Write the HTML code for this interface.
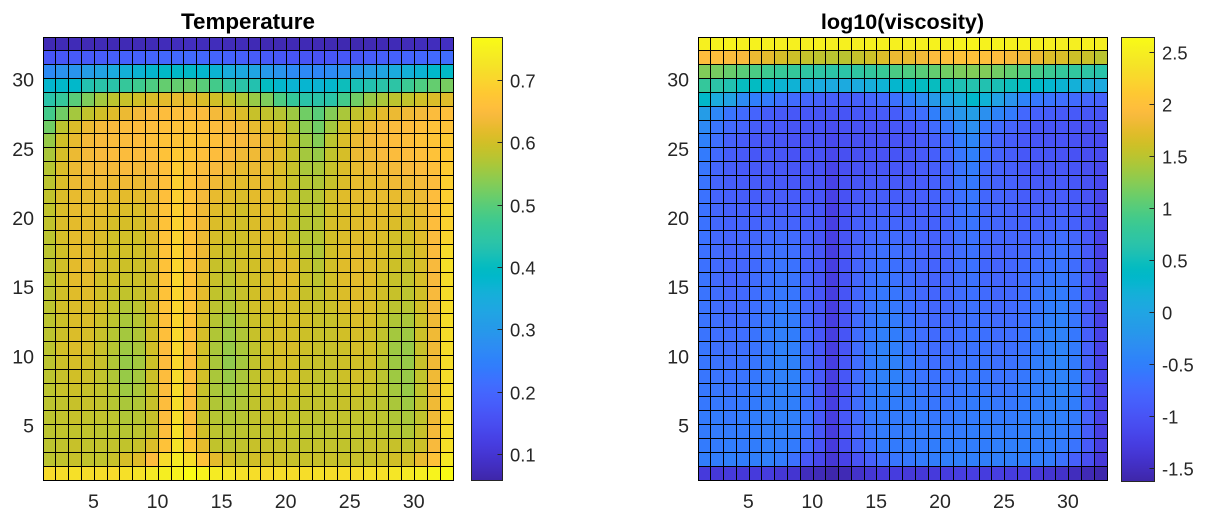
<!DOCTYPE html>
<html lang="en">
<head>
<meta charset="utf-8">
<title>Temperature and log10(viscosity)</title>
<style>
html,body{margin:0;padding:0;background:#fff;width:1206px;height:521px;overflow:hidden}
svg{display:block;font-family:"Liberation Sans",Arial,sans-serif}
</style>
</head>
<body>
<svg id="figure" width="1206" height="521" viewBox="0 0 1206 521" xmlns="http://www.w3.org/2000/svg">
  <defs id="defs"></defs>
  <rect x="0" y="0" width="1206" height="521" fill="#ffffff"></rect>
  <g id="plot-left"></g>
  <g id="plot-right"></g>
</svg>
<script>
// Rows run from the top of the plot (y = 32..33) to the bottom (y = 1..2); 32 columns each.
const temperatureValues = [
[.07,.072,.072,.07,.072,.07,.07,.072,.072,.075,.078,.08,.076,.076,.074,.074,.07,.068,.068,.07,.07,.07,.068,.066,.066,.068,.07,.072,.074,.076,.078,.082],
[.165,.17,.175,.175,.18,.185,.19,.19,.195,.2,.205,.205,.2,.195,.19,.185,.18,.175,.17,.165,.165,.16,.165,.17,.17,.18,.185,.19,.195,.2,.205,.21],
[.27,.285,.29,.31,.325,.345,.36,.37,.38,.39,.39,.39,.38,.37,.35,.34,.33,.3,.29,.27,.265,.26,.27,.28,.295,.31,.33,.345,.36,.37,.385,.39],
[.38,.385,.385,.43,.44,.44,.46,.475,.49,.51,.51,.515,.5,.48,.45,.44,.43,.4,.38,.37,.375,.37,.38,.41,.42,.43,.44,.445,.47,.49,.51,.525],
[.44,.46,.5,.53,.56,.58,.59,.6,.61,.62,.625,.62,.61,.6,.585,.57,.55,.53,.49,.46,.44,.44,.44,.48,.52,.55,.565,.58,.585,.6,.61,.615],
[.48,.52,.56,.585,.6,.615,.63,.64,.65,.655,.66,.655,.65,.64,.625,.61,.59,.585,.575,.555,.52,.5,.535,.565,.585,.6,.62,.63,.635,.64,.65,.66],
[.52,.58,.61,.63,.64,.645,.65,.655,.655,.66,.665,.665,.66,.655,.645,.64,.625,.62,.61,.575,.54,.52,.56,.6,.62,.635,.645,.65,.655,.66,.665,.665],
[.55,.6,.625,.64,.645,.65,.65,.655,.66,.665,.67,.67,.665,.66,.65,.645,.64,.63,.62,.59,.555,.535,.58,.61,.63,.64,.65,.655,.66,.665,.67,.68],
[.565,.605,.63,.64,.645,.65,.65,.65,.655,.665,.68,.67,.66,.655,.645,.635,.635,.63,.615,.59,.56,.55,.585,.605,.63,.635,.645,.65,.655,.66,.665,.68],
[.575,.61,.63,.64,.64,.64,.645,.64,.645,.66,.685,.665,.65,.645,.635,.625,.63,.625,.61,.59,.565,.565,.59,.61,.625,.635,.635,.64,.645,.65,.66,.685],
[.58,.61,.63,.635,.635,.63,.635,.63,.64,.66,.69,.665,.645,.635,.625,.62,.625,.625,.61,.59,.575,.57,.59,.61,.625,.625,.63,.635,.635,.64,.655,.69],
[.585,.61,.625,.625,.625,.62,.62,.62,.625,.66,.69,.665,.64,.625,.615,.61,.62,.62,.61,.59,.575,.575,.6,.615,.62,.625,.625,.625,.625,.63,.655,.69],
[.585,.61,.625,.625,.62,.615,.61,.61,.625,.665,.69,.665,.635,.615,.61,.6,.615,.62,.61,.59,.58,.575,.6,.61,.615,.62,.62,.62,.615,.625,.66,.695],
[.585,.61,.62,.62,.615,.605,.605,.605,.62,.665,.695,.665,.635,.61,.605,.6,.61,.615,.61,.59,.575,.575,.605,.61,.615,.62,.615,.61,.605,.62,.655,.695],
[.58,.605,.62,.62,.61,.6,.6,.6,.615,.665,.695,.665,.63,.605,.6,.6,.61,.615,.61,.59,.575,.575,.6,.61,.615,.615,.61,.6,.6,.615,.65,.7],
[.58,.6,.62,.62,.61,.6,.6,.6,.61,.665,.695,.665,.63,.6,.595,.6,.605,.615,.615,.6,.58,.57,.6,.615,.62,.615,.61,.6,.595,.61,.65,.71],
[.58,.6,.62,.625,.605,.6,.595,.595,.605,.665,.7,.665,.625,.59,.585,.6,.6,.61,.62,.615,.59,.575,.6,.615,.62,.615,.605,.595,.59,.605,.645,.72],
[.58,.6,.62,.62,.6,.6,.59,.595,.605,.665,.7,.665,.62,.59,.58,.595,.6,.61,.62,.615,.59,.58,.6,.615,.62,.615,.6,.59,.585,.605,.645,.715],
[.58,.6,.615,.615,.6,.59,.585,.59,.6,.665,.7,.665,.62,.585,.575,.59,.6,.61,.615,.61,.59,.585,.6,.61,.615,.61,.6,.59,.58,.6,.645,.715],
[.58,.6,.61,.61,.6,.585,.57,.58,.605,.665,.7,.665,.615,.58,.57,.585,.6,.605,.61,.605,.595,.59,.595,.61,.615,.61,.595,.58,.575,.6,.64,.715],
[.58,.595,.61,.61,.595,.58,.565,.575,.6,.66,.7,.665,.61,.575,.56,.575,.595,.6,.605,.605,.6,.59,.59,.6,.61,.605,.59,.57,.565,.595,.635,.715],
[.58,.595,.61,.605,.59,.575,.56,.57,.6,.66,.705,.66,.605,.57,.555,.57,.59,.6,.605,.6,.595,.59,.59,.6,.605,.6,.585,.56,.555,.595,.635,.715],
[.58,.6,.61,.605,.59,.575,.555,.565,.6,.655,.705,.66,.6,.565,.55,.565,.585,.6,.605,.605,.595,.59,.59,.595,.605,.6,.585,.555,.55,.59,.635,.715],
[.58,.595,.605,.6,.59,.57,.55,.56,.595,.655,.705,.655,.6,.565,.545,.56,.585,.6,.605,.6,.59,.59,.59,.595,.6,.6,.58,.555,.55,.59,.635,.715],
[.58,.59,.6,.595,.585,.57,.55,.56,.595,.655,.71,.655,.6,.565,.55,.565,.585,.595,.6,.6,.59,.585,.585,.595,.6,.595,.58,.555,.55,.585,.635,.715],
[.58,.59,.595,.59,.585,.575,.555,.565,.59,.655,.71,.655,.59,.565,.555,.565,.585,.595,.6,.595,.59,.585,.585,.59,.595,.59,.58,.56,.55,.585,.635,.715],
[.58,.585,.59,.59,.585,.575,.565,.57,.59,.655,.715,.655,.59,.57,.56,.57,.585,.59,.595,.59,.585,.585,.585,.59,.59,.585,.58,.565,.555,.585,.635,.715],
[.58,.585,.59,.585,.585,.58,.57,.575,.59,.655,.715,.655,.59,.575,.57,.575,.585,.59,.59,.585,.585,.58,.585,.585,.585,.585,.58,.57,.565,.585,.635,.715],
[.58,.585,.585,.585,.58,.58,.575,.58,.59,.655,.72,.66,.6,.58,.575,.58,.585,.585,.59,.585,.58,.58,.58,.585,.585,.585,.58,.575,.57,.59,.64,.715],
[.58,.585,.59,.585,.585,.585,.585,.59,.61,.665,.725,.675,.62,.585,.58,.585,.59,.59,.59,.585,.585,.585,.585,.585,.585,.59,.59,.59,.585,.595,.645,.72],
[.58,.585,.59,.585,.585,.59,.605,.615,.655,.71,.74,.715,.665,.62,.6,.59,.6,.6,.595,.59,.59,.59,.59,.59,.59,.59,.595,.6,.6,.625,.665,.735],
[.71,.715,.72,.715,.715,.71,.72,.725,.735,.745,.755,.77,.755,.74,.73,.72,.715,.71,.715,.715,.715,.72,.715,.715,.715,.72,.72,.73,.735,.745,.755,.77]
];
const viscosityValues = [
[2.52,2.54,2.55,2.52,2.54,2.52,2.5,2.52,2.5,2.52,2.5,2.52,2.5,2.52,2.52,2.52,2.5,2.52,2.54,2.52,2.54,2.56,2.54,2.54,2.52,2.54,2.52,2.5,2.5,2.5,2.52,2.5],
[1.96,1.97,1.93,1.9,1.8,1.75,1.65,1.6,1.55,1.52,1.5,1.5,1.55,1.6,1.7,1.8,1.78,1.85,1.95,1.98,2,2,1.98,1.95,1.88,1.85,1.8,1.7,1.68,1.6,1.58,1.5],
[1.22,1.17,1.1,1.03,.95,.87,.8,.78,.72,.7,.68,.68,.72,.76,.82,.95,.97,1.03,1.08,1.15,1.2,1.22,1.22,1.15,1.07,.98,.92,.85,.78,.75,.7,.65],
[.78,.68,.6,.45,.42,.32,.25,.22,.15,.1,.08,.08,.1,.15,.22,.3,.38,.42,.45,.5,.58,.62,.6,.55,.48,.42,.36,.3,.25,.18,.12,.08],
[.35,.1,-.05,-.35,-.5,-.55,-.65,-.72,-.78,-.82,-.86,-.88,-.86,-.78,-.72,-.65,-.5,-.35,-.15,0,.12,.35,.22,-.05,-.25,-.45,-.58,-.62,-.68,-.72,-.78,-.82],
[-.12,-.4,-.62,-.72,-.8,-.88,-.92,-.94,-.96,-.98,-.98,-.98,-.96,-.94,-.9,-.88,-.72,-.68,-.5,-.33,-.2,-.1,-.28,-.45,-.55,-.75,-.84,-.88,-.92,-.92,-.96,-.98],
[-.38,-.62,-.74,-.8,-.88,-.92,-.96,-.98,-.98,-1,-1.08,-1.02,-1.02,-1,-1,-.96,-.94,-.88,-.72,-.6,-.42,-.3,-.6,-.72,-.8,-.9,-.96,-.98,-.98,-1,-1.05,-1.08],
[-.48,-.68,-.84,-.9,-.96,-.96,-.98,-1,-1.02,-1.02,-1.12,-1.04,-1.04,-1.02,-1.02,-1,-.98,-.92,-.84,-.74,-.55,-.42,-.68,-.82,-.88,-.94,-.98,-1,-1,-1.02,-1.06,-1.1],
[-.55,-.74,-.88,-.92,-.96,-.96,-.98,-1,-1,-1.02,-1.14,-1.04,-1.04,-1.02,-1,-.98,-.97,-.92,-.86,-.78,-.6,-.5,-.72,-.82,-.88,-.94,-.96,-.98,-1,-1.02,-1.06,-1.1],
[-.6,-.78,-.88,-.92,-.92,-.94,-.96,-.97,-.98,-1.02,-1.18,-1.04,-1.02,-.98,-.97,-.95,-.94,-.9,-.86,-.8,-.63,-.55,-.74,-.82,-.86,-.92,-.95,-.96,-.96,-.98,-1.04,-1.12],
[-.62,-.8,-.88,-.9,-.9,-.92,-.94,-.94,-.96,-1,-1.2,-1.02,-.98,-.94,-.92,-.92,-.92,-.89,-.84,-.8,-.63,-.58,-.76,-.82,-.84,-.9,-.92,-.94,-.92,-.96,-1.02,-1.14],
[-.64,-.8,-.86,-.88,-.88,-.9,-.9,-.9,-.94,-.98,-1.22,-1.02,-.94,-.9,-.88,-.88,-.88,-.87,-.82,-.8,-.66,-.6,-.76,-.8,-.82,-.88,-.9,-.9,-.89,-.92,-1,-1.16],
[-.64,-.78,-.84,-.84,-.84,-.86,-.86,-.86,-.9,-.96,-1.24,-1,-.9,-.86,-.84,-.84,-.86,-.84,-.82,-.8,-.66,-.62,-.76,-.78,-.8,-.86,-.86,-.86,-.84,-.88,-.98,-1.18],
[-.64,-.76,-.82,-.8,-.8,-.78,-.8,-.8,-.86,-.96,-1.24,-.98,-.86,-.82,-.78,-.78,-.8,-.82,-.82,-.8,-.66,-.62,-.74,-.78,-.8,-.82,-.82,-.82,-.78,-.84,-.96,-1.2],
[-.64,-.75,-.8,-.78,-.76,-.72,-.7,-.72,-.84,-.96,-1.24,-.98,-.84,-.76,-.72,-.72,-.76,-.8,-.82,-.8,-.68,-.65,-.75,-.78,-.78,-.8,-.78,-.74,-.7,-.78,-.94,-1.2],
[-.65,-.73,-.8,-.76,-.72,-.68,-.66,-.68,-.82,-.96,-1.26,-.98,-.82,-.72,-.66,-.68,-.72,-.78,-.82,-.8,-.7,-.65,-.76,-.8,-.78,-.76,-.72,-.68,-.64,-.72,-.92,-1.22],
[-.65,-.73,-.8,-.78,-.72,-.66,-.62,-.64,-.82,-.96,-1.26,-.98,-.8,-.7,-.64,-.66,-.72,-.78,-.8,-.8,-.7,-.65,-.76,-.8,-.76,-.72,-.68,-.64,-.62,-.7,-.92,-1.22],
[-.62,-.73,-.8,-.76,-.7,-.64,-.6,-.62,-.8,-.96,-1.26,-.98,-.78,-.66,-.6,-.64,-.7,-.76,-.8,-.78,-.7,-.65,-.75,-.78,-.76,-.7,-.64,-.6,-.58,-.66,-.9,-1.22],
[-.62,-.7,-.78,-.74,-.68,-.62,-.58,-.6,-.8,-.96,-1.26,-.98,-.76,-.64,-.58,-.6,-.68,-.74,-.78,-.78,-.7,-.66,-.72,-.76,-.74,-.7,-.62,-.55,-.55,-.64,-.9,-1.22],
[-.62,-.7,-.75,-.72,-.66,-.6,-.55,-.58,-.78,-.96,-1.26,-.98,-.74,-.62,-.55,-.58,-.66,-.72,-.76,-.76,-.7,-.66,-.7,-.74,-.72,-.68,-.6,-.52,-.5,-.62,-.9,-1.22],
[-.62,-.68,-.72,-.7,-.64,-.58,-.52,-.55,-.76,-.96,-1.26,-.98,-.72,-.6,-.52,-.55,-.64,-.7,-.74,-.74,-.7,-.66,-.68,-.72,-.7,-.66,-.58,-.5,-.48,-.6,-.88,-1.22],
[-.62,-.68,-.7,-.68,-.62,-.55,-.5,-.52,-.74,-.95,-1.26,-.98,-.7,-.58,-.5,-.52,-.62,-.68,-.72,-.72,-.68,-.64,-.66,-.7,-.68,-.64,-.55,-.48,-.46,-.58,-.86,-1.2],
[-.6,-.66,-.68,-.66,-.62,-.55,-.48,-.5,-.72,-.94,-1.26,-.98,-.7,-.55,-.48,-.5,-.6,-.66,-.7,-.7,-.66,-.64,-.64,-.68,-.66,-.62,-.55,-.47,-.45,-.55,-.85,-1.2],
[-.6,-.64,-.66,-.64,-.6,-.52,-.47,-.48,-.7,-.94,-1.26,-.96,-.7,-.55,-.47,-.48,-.58,-.64,-.68,-.68,-.64,-.62,-.62,-.66,-.64,-.6,-.52,-.46,-.44,-.55,-.84,-1.2],
[-.6,-.62,-.64,-.62,-.58,-.52,-.47,-.48,-.68,-.92,-1.26,-.95,-.7,-.55,-.48,-.48,-.58,-.62,-.64,-.66,-.62,-.6,-.6,-.64,-.62,-.58,-.52,-.47,-.45,-.52,-.82,-1.2],
[-.58,-.6,-.62,-.6,-.55,-.52,-.48,-.5,-.65,-.92,-1.26,-.95,-.7,-.55,-.5,-.5,-.55,-.6,-.62,-.64,-.6,-.58,-.58,-.62,-.6,-.55,-.52,-.48,-.45,-.52,-.82,-1.2],
[-.58,-.58,-.6,-.58,-.55,-.5,-.5,-.5,-.65,-.92,-1.26,-.94,-.7,-.55,-.52,-.52,-.55,-.58,-.6,-.62,-.58,-.55,-.55,-.58,-.58,-.55,-.52,-.48,-.48,-.52,-.82,-1.2],
[-.55,-.55,-.58,-.55,-.52,-.5,-.5,-.5,-.62,-.92,-1.26,-.94,-.72,-.58,-.55,-.55,-.55,-.55,-.58,-.58,-.55,-.55,-.52,-.55,-.55,-.52,-.5,-.5,-.5,-.55,-.84,-1.2],
[-.55,-.55,-.55,-.55,-.52,-.5,-.5,-.52,-.65,-.95,-1.28,-.98,-.75,-.6,-.55,-.55,-.55,-.55,-.55,-.55,-.55,-.52,-.52,-.52,-.52,-.52,-.5,-.5,-.52,-.58,-.88,-1.24],
[-.55,-.55,-.52,-.55,-.52,-.5,-.52,-.55,-.72,-1,-1.3,-1.04,-.82,-.65,-.55,-.55,-.55,-.55,-.52,-.52,-.52,-.52,-.52,-.5,-.5,-.5,-.52,-.52,-.55,-.62,-.92,-1.26],
[-.52,-.52,-.5,-.52,-.5,-.5,-.55,-.65,-.95,-1.15,-1.35,-1.2,-1,-.85,-.7,-.6,-.58,-.55,-.52,-.5,-.5,-.5,-.5,-.5,-.5,-.52,-.52,-.55,-.65,-.85,-1.05,-1.32],
[-1.3,-1.33,-1.3,-1.33,-1.3,-1.28,-1.35,-1.38,-1.5,-1.53,-1.6,-1.55,-1.42,-1.35,-1.3,-1.28,-1.32,-1.33,-1.3,-1.28,-1.25,-1.25,-1.28,-1.25,-1.28,-1.28,-1.32,-1.38,-1.42,-1.5,-1.55,-1.6]
];
const axisTickValues = [5, 10, 15, 20, 25, 30];
const temperatureColorTicks = [0.1, 0.2, 0.3, 0.4, 0.5, 0.6, 0.7];
const temperatureColorLabels = ["0.1", "0.2", "0.3", "0.4", "0.5", "0.6", "0.7"];
const viscosityColorTicks = [-1.5, -1, -0.5, 0, 0.5, 1, 1.5, 2, 2.5];
const viscosityColorLabels = ["-1.5", "-1", "-0.5", "0", "0.5", "1", "1.5", "2", "2.5"];
const temperatureLimits = [0.058, 0.7694];
const viscosityLimits = [-1.62, 2.64];
const parula = [[.2422,.1504,.6603],[.2504,.165,.7076],[.2578,.1818,.7511],[.2647,.1978,.7952],[.2706,.2147,.8364],[.2751,.2342,.871],[.2783,.2559,.8991],[.2803,.2782,.9221],[.2813,.3006,.9414],[.281,.3228,.9579],[.2795,.3447,.9717],[.276,.3667,.9829],[.2699,.3892,.9906],[.2602,.4123,.9952],[.244,.4358,.9988],[.2206,.4603,.9973],[.1963,.4847,.9892],[.1834,.5074,.9798],[.1786,.5289,.9682],[.1764,.5499,.952],[.1687,.5703,.9359],[.154,.5902,.9218],[.146,.6091,.9079],[.138,.6276,.8973],[.1248,.6459,.8883],[.1113,.6635,.8763],[.0952,.6798,.8598],[.0689,.6948,.8394],[.0297,.7082,.8163],[.0036,.7203,.7917],[.0067,.7312,.766],[.0433,.7411,.7394],[.0964,.75,.712],[.1408,.7584,.6842],[.1717,.767,.6554],[.1938,.7758,.6251],[.2161,.7843,.5923],[.247,.7918,.5567],[.2906,.7973,.5188],[.3406,.8008,.4789],[.3909,.8029,.4354],[.4456,.8024,.3909],[.5044,.7993,.348],[.5616,.7942,.3045],[.6174,.7876,.2612],[.672,.7793,.2227],[.7242,.7698,.191],[.7738,.7598,.1646],[.8203,.7498,.1535],[.8634,.7406,.1596],[.9035,.733,.1774],[.9393,.7288,.21],[.9728,.7298,.2394],[.9956,.7434,.2371],[.997,.7659,.2199],[.9952,.7861,.1967],[.9892,.8136,.1885],[.9786,.8386,.1766],[.9676,.8639,.1643],[.961,.889,.1537],[.9597,.9135,.1423],[.9628,.9373,.1265],[.9691,.9606,.1064],[.9769,.9839,.0805]];

const SVG_NS = "http://www.w3.org/2000/svg";
const TEXT_COLOR = "#262626";

function make(tag, attrs, parent) {
  const el = document.createElementNS(SVG_NS, tag);
  for (const k in attrs) el.setAttribute(k, attrs[k]);
  parent.appendChild(el);
  return el;
}
function colorAt(t) {
  const p = Math.max(0, Math.min(1, t)) * (parula.length - 1);
  const i = Math.min(parula.length - 2, Math.floor(p));
  const f = p - i;
  const c = [0, 1, 2].map(function (k) {
    return Math.round(255 * (parula[i][k] * (1 - f) + parula[i + 1][k] * f));
  });
  return "rgb(" + c.join(",") + ")";
}

function drawPanel(cfg) {
  const root = document.getElementById(cfg.rootId);
  const rows = cfg.values.length;
  const cols = cfg.values[0].length;
  const xScale = function (v) { return cfg.left + (v - 1) * (cfg.right - cfg.left) / cols; };
  const yScale = function (v) { return cfg.bottom - (v - 1) * (cfg.bottom - cfg.top) / rows; };
  const norm = function (v) { return (v - cfg.limits[0]) / (cfg.limits[1] - cfg.limits[0]); };
  const snap = function (p) { return Math.floor(p + 1e-6) + 0.5; };

  const title = make("text", { x: (cfg.left + cfg.right) / 2, y: 29, "text-anchor": "middle", "font-size": cfg.titleSize, "font-weight": "bold", fill: "#000" }, root);
  
  
  title.textContent = cfg.title;

  const cellGroup = make("g", { "shape-rendering": "crispEdges" }, root);
  
  
  cfg.values.forEach(function (row, r) {
    const yLevel = rows - r;
    row.forEach(function (value, c) {
      const x0 = snap(xScale(c + 1));
      const x1 = snap(xScale(c + 2));
      const y0 = snap(yScale(yLevel + 1));
      const y1 = snap(yScale(yLevel));
      const cell = make("rect", { x: x0, y: y0, width: x1 - x0, height: y1 - y0, fill: colorAt(norm(value)), stroke: "#000", "stroke-width": 1 }, cellGroup);
      
      
    });
  });

  const xAxis = make("g", { "text-anchor": "middle", "font-size": 19.6, fill: TEXT_COLOR }, root);
  
  
  const yAxis = make("g", { "text-anchor": "end", "font-size": 19.6, fill: TEXT_COLOR }, root);
  
  
  axisTickValues.forEach(function (t) {
    const xt = make("text", { x: xScale(t) - 0.8, y: 508 }, xAxis);
    
    
    xt.textContent = String(t);
    const yt = make("text", { x: cfg.left - 9, y: yScale(t) + 8 }, yAxis);
    
    
    yt.textContent = String(t);
  });

  const gradId = cfg.rootId + "-gradient";
  const grad = make("linearGradient", { id: gradId, x1: 0, y1: 1, x2: 0, y2: 0 }, document.getElementById("defs"));
  parula.forEach(function (c, i) {
    make("stop", { offset: i / (parula.length - 1), "stop-color": colorAt(i / (parula.length - 1)) }, grad);
  });

  const cbar = make("g", {}, root);
  
  
  const cbTop = 37.5;
  const cbScale = function (v) { return cfg.cbBottom - norm(v) * (cfg.cbBottom - cbTop); };
  const bar = make("rect", { x: cfg.cbLeft, y: cbTop, width: cfg.cbRight - cfg.cbLeft, height: cfg.cbBottom - cbTop, fill: "url(#" + gradId + ")", stroke: TEXT_COLOR, "stroke-width": 1 }, cbar);
  
  
  cfg.cbTicks.forEach(function (t, i) {
    const y = snap(cbScale(t));
    const tick = make("line", { x1: cfg.cbRight - 5, x2: cfg.cbRight, y1: y, y2: y, stroke: TEXT_COLOR, "stroke-width": 1 }, cbar);
    
    
    const label = make("text", { x: cfg.cbRight + 7.5, y: y + 6.8, "font-size": 18.4, fill: TEXT_COLOR }, cbar);
    
    
    label.textContent = cfg.cbLabels[i];
  });
}

drawPanel({
  rootId: "plot-left", title: "Temperature", titleSize: 22.4, values: temperatureValues, limits: temperatureLimits,
  left: 43, right: 453, top: 37, bottom: 480,
  cbLeft: 471.5, cbRight: 502.5, cbBottom: 480.5,
  cbTicks: temperatureColorTicks, cbLabels: temperatureColorLabels
});
drawPanel({
  rootId: "plot-right", title: "log10(viscosity)", titleSize: 21.6, values: viscosityValues, limits: viscosityLimits,
  left: 698, right: 1107, top: 37, bottom: 480,
  cbLeft: 1121.5, cbRight: 1154.5, cbBottom: 481.5,
  cbTicks: viscosityColorTicks, cbLabels: viscosityColorLabels
});
</script>
</body>
</html>
